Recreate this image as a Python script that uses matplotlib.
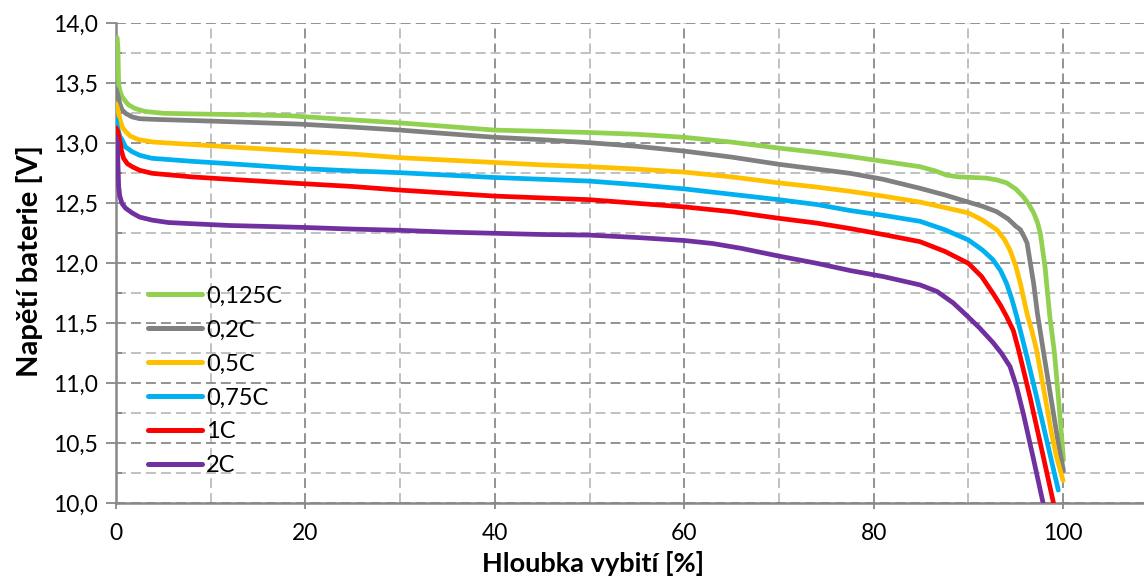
import matplotlib
matplotlib.use("Agg")
import matplotlib.pyplot as plt
from matplotlib.ticker import MultipleLocator, FixedLocator, FuncFormatter

plt.rcParams['font.family'] = ['Lato', 'DejaVu Sans']

labels = ["0,125C", "0,2C", "0,5C", "0,75C", "1C", "2C"]
colors = ["#92D050", "#808080", "#FFC000", "#00B0F0", "#FF0000", "#7030A0"]

x_0125 = [0.12, 0.2, 0.24, 0.28, 0.4, 0.63, 1.0, 1.33, 2.0, 3.1, 5.0, 8, 12, 18.3, 24, 30, 35, 40, 45,
          50, 55, 60, 65, 70, 74, 77.5, 81, 84.9, 86.5, 87.7, 89, 90.5, 91.9, 93, 94.05, 95, 95.8,
          96.4, 96.9, 97.3, 97.6, 98.1, 98.6, 99.1, 99.5, 100.05]
v_0125 = [13.88, 13.80, 13.65, 13.50, 13.44, 13.39, 13.35, 13.32, 13.29, 13.265, 13.25, 13.245, 13.24,
          13.23, 13.20, 13.17, 13.14, 13.11, 13.10, 13.09, 13.075, 13.05, 13.01, 12.96, 12.925, 12.89,
          12.85, 12.805, 12.77, 12.735, 12.72, 12.715, 12.71, 12.695, 12.67, 12.62, 12.555, 12.49,
          12.42, 12.34, 12.25, 11.97, 11.56, 11.25, 10.89, 10.36]

x_02 = [0.0, 0.2, 0.4, 0.63, 1.0, 1.7, 2.5, 3.8, 8, 12, 19.4, 25, 30, 35, 40, 45, 50, 55, 60, 65, 70,
        74, 77.5, 81, 84.9, 87.5, 90.0, 91.5, 93.0, 94.2, 95.0, 95.5, 95.9, 96.2, 96.9, 97.3, 97.9,
        98.7, 99.5, 100.05]
v_02 = [13.45, 13.40, 13.33, 13.28, 13.25, 13.22, 13.205, 13.20, 13.19, 13.18, 13.16, 13.135, 13.11,
        13.08, 13.05, 13.03, 13.005, 12.975, 12.935, 12.885, 12.825, 12.785, 12.75, 12.70, 12.625,
        12.57, 12.51, 12.475, 12.43, 12.37, 12.31, 12.28, 12.22, 12.17, 11.83, 11.58, 11.28, 10.89,
        10.50, 10.27]

x_05 = [0.0, 0.2, 0.45, 0.7, 1.0, 1.5, 2.4, 4, 8, 12, 19.4, 25, 30, 35, 40, 45, 50, 55, 60, 65, 70,
        74, 77.5, 81, 84.9, 87.5, 90.0, 91.5, 93.0, 93.8, 94.4, 95.0, 95.5, 96.2, 96.7, 97.2, 98.1,
        98.8, 99.3, 100.0]
v_05 = [13.33, 13.28, 13.19, 13.13, 13.10, 13.06, 13.03, 13.01, 12.99, 12.97, 12.935, 12.91, 12.88,
        12.86, 12.84, 12.82, 12.805, 12.785, 12.76, 12.72, 12.67, 12.635, 12.60, 12.56, 12.51, 12.465,
        12.42, 12.36, 12.28, 12.20, 12.11, 11.98, 11.83, 11.58, 11.44, 11.28, 10.89, 10.58, 10.39,
        10.19]

x_075 = [0.0, 0.2, 0.4, 0.63, 1.0, 1.7, 2.5, 3.8, 8, 12, 19.4, 25, 30, 35, 40, 45, 50, 55, 60, 65,
         70, 74, 77.5, 81, 84.9, 87.5, 90.0, 91.5, 92.6, 93.4, 94.05, 94.6, 95.1, 96.1, 97.2, 98.35,
         99.5]
v_075 = [13.2, 13.12, 13.06, 13.03, 12.97, 12.93, 12.90, 12.875, 12.85, 12.83, 12.79, 12.77, 12.755,
         12.735, 12.715, 12.70, 12.685, 12.655, 12.62, 12.575, 12.53, 12.49, 12.44, 12.40, 12.35,
         12.28, 12.195, 12.11, 12.03, 11.94, 11.83, 11.70, 11.56, 11.25, 10.89, 10.50, 10.11]

x_1 = [0.0, 0.2, 0.45, 0.6, 0.8, 1.2, 1.7, 2.5, 3.8, 8, 12, 19.4, 25, 30, 35, 40, 45, 50, 55, 60,
       65, 70, 74, 77.5, 81, 84.9, 87.5, 90.0, 91.4, 92.6, 93.4, 94.05, 94.75, 95.3, 96.5, 97.8,
       99.0]
v_1 = [13.13, 13.10, 13.0, 12.93, 12.875, 12.83, 12.805, 12.775, 12.75, 12.72, 12.70, 12.665, 12.64,
       12.61, 12.585, 12.56, 12.545, 12.53, 12.50, 12.47, 12.43, 12.375, 12.335, 12.29, 12.24, 12.18,
       12.10, 12.0, 11.89, 11.75, 11.65, 11.555, 11.44, 11.28, 10.89, 10.43, 10.0]

x_2 = [0.0, 0.15, 0.2, 0.28, 0.4, 0.63, 1.0, 1.7, 2.5, 3.8, 5.5, 8, 12, 19.4, 25, 30, 35, 40, 45,
       50, 55, 60, 63, 66, 70, 74, 77.5, 81, 84.9, 86.7, 88.4, 89.9, 91.2, 92.6, 93.5, 94.4, 95.1,
       95.8, 96.85, 97.9]
v_2 = [13.05, 13.0, 12.85, 12.64, 12.56, 12.50, 12.46, 12.42, 12.385, 12.36, 12.34, 12.33, 12.315,
       12.30, 12.285, 12.275, 12.26, 12.25, 12.24, 12.235, 12.215, 12.19, 12.165, 12.125, 12.06, 12.0,
       11.94, 11.89, 11.82, 11.765, 11.67, 11.56, 11.46, 11.34, 11.25, 11.14, 10.97, 10.75, 10.38,
       10.0]

xs = [x_0125, x_02, x_05, x_075, x_1, x_2]
vs = [v_0125, v_02, v_05, v_075, v_1, v_2]

fig = plt.figure(figsize=(11.44, 5.83), dpi=100)
ax = fig.add_axes([0.1014, 0.13671, 0.8986, 0.82332])

for x, v, c, lab in zip(xs, vs, colors, labels):
    ax.plot(x, v, color=c, lw=3.4, label=lab, solid_capstyle='round', solid_joinstyle='round', zorder=3)

ax.set_xlim(0, 108.55)
ax.set_ylim(10.0, 14.0)

ax.xaxis.set_major_locator(FixedLocator([0, 20, 40, 60, 80, 100]))
ax.xaxis.set_minor_locator(FixedLocator([10, 30, 50, 70, 90]))
ax.yaxis.set_major_locator(MultipleLocator(0.5))
ax.yaxis.set_minor_locator(MultipleLocator(0.25))
ax.yaxis.set_major_formatter(FuncFormatter(lambda v, p: f"{v:.1f}".replace('.', ',')))

ax.grid(which='major', color='#8a8a8a', linestyle=(0, (5.5, 2.8)), lw=1.3)
ax.grid(which='minor', color='#bcbcbc', linestyle=(0, (5.5, 2.8)), lw=1.3)

for s in ['top', 'right']:
    ax.spines[s].set_visible(False)
for s in ['left', 'bottom']:
    ax.spines[s].set_color('#888888')
    ax.spines[s].set_linewidth(1.8)

ax.tick_params(axis='y', which='major', direction='out', length=7, width=1.3, color='#888888',
               labelsize=16.5, pad=6)
ax.tick_params(axis='y', which='minor', direction='in', length=4, width=1.3, color='#888888')
ax.tick_params(axis='x', which='major', direction='out', length=4, width=1.3, color='#888888',
               labelsize=16.5, pad=10)
ax.tick_params(axis='x', which='minor', length=0)

ax.set_xlabel("Hloubka vybití [%]", fontsize=19.5, fontweight='bold')
ax.xaxis.set_label_coords(0.464, -0.1)
ax.set_ylabel("Napětí baterie [V]", fontsize=21, fontweight='bold')
ax.yaxis.set_label_coords(-0.071, 0.505)

leg = ax.legend(loc='center left', bbox_to_anchor=(0.031, 0.255), frameon=False, fontsize=17,
                handlelength=2.3, handletextpad=0.17, labelspacing=0.55, borderaxespad=0,
                borderpad=0)
for h in leg.get_lines():
    h.set_linewidth(3.6)
    h.set_solid_capstyle('round')

fig.savefig("out.png", dpi=100)
